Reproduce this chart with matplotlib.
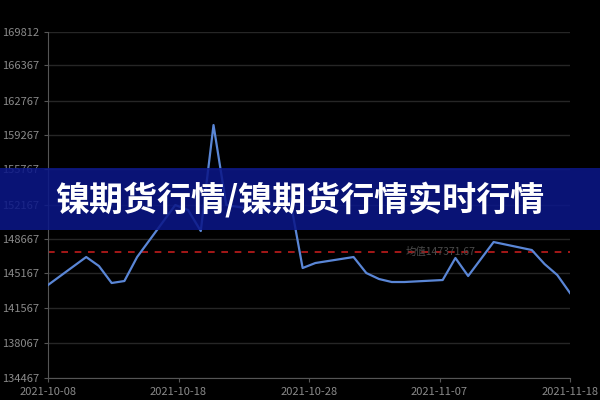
import numpy as np
import matplotlib.pyplot as plt
from matplotlib.patches import Rectangle

plt.rcParams['font.family'] = ['Noto Sans CJK SC', 'DejaVu Sans']

# Day offsets from 2021-10-08 (trading days) and nickel prices
days = [0, 3, 4, 5, 6, 7, 10, 11, 12, 13, 14, 17, 18, 19, 20, 21, 24, 25, 26, 27,
        28, 31, 32, 33, 35, 38, 39, 40, 41]
prices = [143955, 146811, 145893, 144159, 144363, 146811, 152115, 151605, 149463, 160275,
          152115, 151500, 152400, 152800, 145689, 146199, 146811, 145179, 144567, 144261,
          144261, 144465, 146709, 144873, 148341, 147525, 146097, 144975, 143139]
avg_price = 147371.67

# Axis ticks
y_ticks = [134467, 138067, 141567, 145167, 148667, 152167, 155767, 159267, 162767, 166367, 169812]
x_tick_labels = ['2021-10-08', '2021-10-18', '2021-10-28', '2021-11-07', '2021-11-18']

title = '镍期货行情/镍期货行情实时行情'

fig = plt.figure(figsize=(6, 4), dpi=100, facecolor='#000000')
ax = fig.add_axes([0.08, 0.055, 0.87, 0.866], facecolor='#000000')

# price line
ax.plot(days, prices, color='#5a86d6', linewidth=1.6, zorder=3)

# average mark line
ax.axhline(avg_price, color='#c01c1c', linewidth=1.2, linestyle=(0, (4, 4)), zorder=2)
ax.text(30.8, avg_price, f'均值{avg_price:.2f}', color='#4a4a4a', fontsize=7.5,
        ha='center', va='center', zorder=2)

ax.set_xlim(0, 41)
ax.set_ylim(134467, 169812)
ax.set_yticks(y_ticks)
ax.set_yticklabels([str(v) for v in y_ticks])
ax.set_xticks(np.linspace(0, 41, len(x_tick_labels)))
ax.set_xticklabels(x_tick_labels)

ax.grid(axis='y', color='#262626', linewidth=1)
ax.set_axisbelow(True)
ax.tick_params(colors='#555555', labelcolor='#8a8a8a', labelsize=8, length=3, width=0.8)
for side in ['top', 'right']:
    ax.spines[side].set_visible(False)
for side in ['left', 'bottom']:
    ax.spines[side].set_color('#555555')
    ax.spines[side].set_linewidth(0.8)

# title banner across the chart
fig.add_artist(Rectangle((0, 1 - 230 / 400), 1, 62 / 400, transform=fig.transFigure,
                         facecolor='#0b1788', alpha=0.87, edgecolor='none', zorder=10))
fig.text(0.5, 1 - 200 / 400, title, color='white', fontsize=24.5, fontweight='heavy',
         ha='center', va='center', zorder=11)

plt.savefig('out.png', dpi=100, facecolor=fig.get_facecolor())
